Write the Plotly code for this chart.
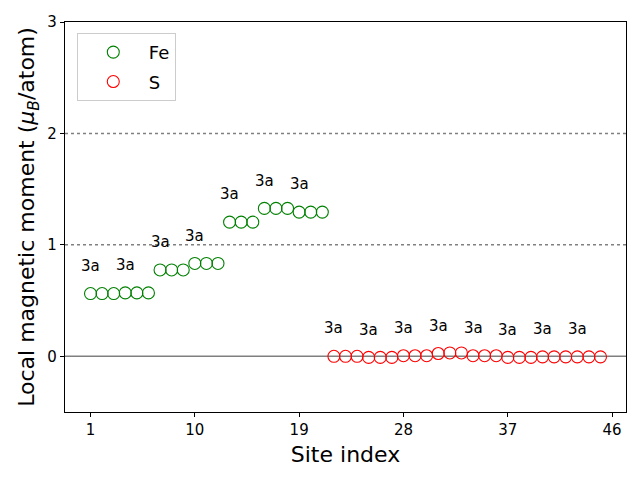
import plotly.graph_objects as go

fe_sites = list(range(1, 22))
fe_values = [0.563, 0.563, 0.563, 0.569, 0.569, 0.569,
             0.775, 0.775, 0.775, 0.833, 0.833, 0.833,
             1.204, 1.204, 1.204, 1.327, 1.327, 1.327,
             1.294, 1.294, 1.294]
s_sites = list(range(22, 46))
s_values = [0.0, 0.0, 0.0, -0.01, -0.01, -0.01,
            0.005, 0.005, 0.005, 0.025, 0.03, 0.03,
            0.005, 0.005, 0.005, -0.01, -0.01, -0.01,
            -0.005, -0.005, -0.005, -0.005, -0.005, -0.005]
label_sites = [1, 4, 7, 10, 13, 16, 19, 22, 25, 28, 31, 34, 37, 40, 43]
label_text = "3a"
label_offset = 0.25
x_ticks = [1, 10, 19, 28, 37, 46]
y_ticks = [0, 1, 2, 3]

all_sites = fe_sites + s_sites
all_values = fe_values + s_values

FONT = "DejaVu Sans"

fig = go.Figure()
fig.add_trace(go.Scatter(
    x=fe_sites, y=fe_values, mode="markers", name="Fe", legendgroup="fe",
    marker=dict(symbol="circle-open", size=12, color="green", line=dict(width=1.1, color="green")),
))
fig.add_trace(go.Scatter(
    x=s_sites, y=s_values, mode="markers", name="S", legendgroup="s",
    marker=dict(symbol="circle-open", size=12, color="red", line=dict(width=1.1, color="red")),
))

for s in label_sites:
    v = all_values[all_sites.index(s)]
    fig.add_annotation(x=s, y=v + label_offset, text=label_text, showarrow=False,
                       font=dict(family=FONT, size=15, color="black"),
                       xanchor="center", yanchor="middle")

for yv in [1, 2]:
    fig.add_shape(type="line", xref="paper", x0=0, x1=1, yref="y", y0=yv, y1=yv,
                  line=dict(color="#808080", width=1.5, dash="dot"), layer="below")
fig.add_shape(type="line", xref="paper", x0=0, x1=1, yref="y", y0=0, y1=0,
              line=dict(color="#808080", width=1.5), layer="below")

fig.update_layout(
    width=640, height=480,
    margin=dict(l=65, r=14, t=22, b=68),
    paper_bgcolor="white", plot_bgcolor="white",
    font=dict(family=FONT, color="black"),
    showlegend=True,
    legend=dict(x=0.021, y=0.972, xanchor="left", yanchor="top",
                bordercolor="#cccccc", borderwidth=1, bgcolor="rgba(255,255,255,0.8)",
                font=dict(family=FONT, size=18), traceorder="grouped", tracegroupgap=3,
                itemwidth=61),
    xaxis=dict(range=[-1.2, 47.2], tickvals=x_ticks, ticks="outside", ticklen=4, tickwidth=1,
               tickcolor="black", showgrid=False, zeroline=False, showline=True, mirror=True,
               linecolor="black", linewidth=1.2, tickfont=dict(family=FONT, size=15),
               title=dict(text="Site index", font=dict(family=FONT, size=22), standoff=8)),
    yaxis=dict(range=[-0.5, 3], tickvals=y_ticks, ticks="outside", ticklen=4, tickwidth=1,
               tickcolor="black", showgrid=False, zeroline=False, showline=True, mirror=True,
               linecolor="black", linewidth=1.2, tickfont=dict(family=FONT, size=15),
               title=dict(text="Local magnetic moment (<i>μ</i><sub><i>B</i></sub>/atom)",
                          font=dict(family=FONT, size=22), standoff=6)),
)

fig.write_html("out.html")
